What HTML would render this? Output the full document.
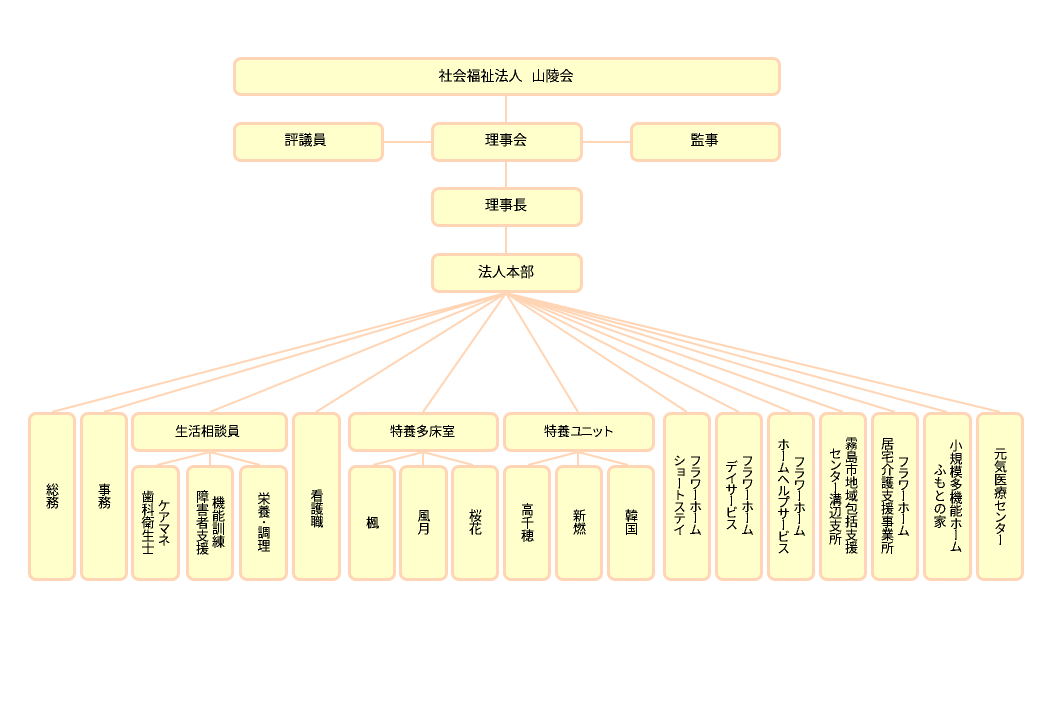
<!DOCTYPE html>
<html lang="ja"><head><meta charset="utf-8"><title>組織図</title>
<style>
html,body{margin:0;padding:0;background:#fff}
#c{position:relative;width:1040px;height:720px;overflow:hidden;font-family:"WenQuanYi Zen Hei","Noto Sans CJK JP",sans-serif;color:#000}
svg{position:absolute;left:0;top:0}
.b{position:absolute;box-sizing:border-box;background:#ffffcc;border:3px solid #ffd5b5;border-radius:8px;display:flex;align-items:center;justify-content:center;font-size:13px;line-height:16px;white-space:nowrap}
.b>span{display:block;position:relative;filter:url(#a)}
.l{font-size:14px}
.l>span{left:-1px;top:-2px}
.m>span{left:-1px;top:-1px}
.v>span{writing-mode:vertical-rl;text-align:center;line-height:16px;top:-1px}
.k{letter-spacing:-1.5px}
.u{letter-spacing:-2.5px}
.d{font-size:8px}
</style></head><body><div id="c">
<svg width="0" height="0" style="position:absolute"><filter id="a" x="-20%" y="-20%" width="140%" height="140%" color-interpolation-filters="sRGB"><feComponentTransfer><feFuncA type="discrete" tableValues="0 1 1"/></feComponentTransfer></filter></svg>
<svg width="1040" height="720" fill="none" stroke="#ffd5b5" stroke-width="2">
<path d="M506 96V122M384 142H431M583 142H630M506 162V187M506 227V253"/>
<path d="M506 293L52 412M506 293L104 412M506 293L210 412M506 293L316 412M506 293L423 412M506 293L578 412M506 293L687 412M506 293L739 412M506 293L791 412M506 293L843 412M506 293L895 412M506 293L947 412M506 293L1000 412"/>
<path d="M210 452L157 465M210 452V465M210 452L260 465M423 452L373 465M423 452V465M423 452L473 465M578 452L528 465M578 452V465M578 452L628 465"/>
</svg>
<div class="b l" style="left:233px;top:57px;width:548px;height:39px;"><span style="top:-1px">社会福祉法人<i style="display:inline-block;width:9px"></i>山陵会</span></div>
<div class="b l" style="left:233px;top:122px;width:151px;height:40px;"><span style="left:-3px">評議員</span></div>
<div class="b l" style="left:431px;top:122px;width:152px;height:40px;"><span>理事会</span></div>
<div class="b l" style="left:630px;top:122px;width:151px;height:40px;"><span>監事</span></div>
<div class="b l" style="left:431px;top:187px;width:152px;height:40px;"><span>理事長</span></div>
<div class="b l" style="left:431px;top:253px;width:152px;height:40px;"><span style="top:-1px">法人本部</span></div>
<div class="b v" style="left:28px;top:412px;width:48px;height:169px;"><span>総務</span></div>
<div class="b v" style="left:80px;top:412px;width:48px;height:169px;"><span>事務</span></div>
<div class="b m" style="left:131px;top:412px;width:157px;height:40px;"><span style="left:-2px">生活相談員</span></div>
<div class="b v" style="left:131px;top:465px;width:49px;height:116px;"><span><b class="k" style="font-weight:400">ケアマネ</b><br>歯科衛生士</span></div>
<div class="b v" style="left:186px;top:465px;width:48px;height:116px;"><span>機能訓練<br>障害者支援</span></div>
<div class="b v" style="left:239px;top:465px;width:49px;height:116px;"><span>栄養<b class="d" style="font-weight:700">・</b>調理</span></div>
<div class="b v" style="left:292px;top:412px;width:49px;height:169px;"><span style="top:12px">看護職</span></div>
<div class="b m" style="left:348px;top:412px;width:151px;height:40px;"><span>特養多床室</span></div>
<div class="b v" style="left:348px;top:465px;width:48px;height:116px;"><span>楓</span></div>
<div class="b v" style="left:399px;top:465px;width:49px;height:116px;"><span>風月</span></div>
<div class="b v" style="left:451px;top:465px;width:48px;height:116px;"><span>桜花</span></div>
<div class="b m" style="left:503px;top:412px;width:152px;height:40px;"><span>特養<b class="u" style="font-weight:400">ユニット</b></span></div>
<div class="b v" style="left:503px;top:465px;width:48px;height:116px;"><span>高千穂</span></div>
<div class="b v" style="left:555px;top:465px;width:48px;height:116px;"><span>新燃</span></div>
<div class="b v" style="left:607px;top:465px;width:48px;height:116px;"><span>韓国</span></div>
<div class="b v" style="left:663px;top:412px;width:48px;height:169px;"><span class="k" style="top:-2px">フラワーホーム<br>ショートステイ</span></div>
<div class="b v" style="left:715px;top:412px;width:48px;height:169px;"><span class="k" style="top:-2px">フラワーホーム<br>デイサービス</span></div>
<div class="b v" style="left:767px;top:412px;width:48px;height:169px;"><span class="k">フラワーホーム<br>ホームヘルプサービス</span></div>
<div class="b v" style="left:819px;top:412px;width:48px;height:169px;"><span>霧島市地域包括支援<br><b class="k" style="font-weight:400">センター</b>溝辺支所</span></div>
<div class="b v" style="left:871px;top:412px;width:48px;height:169px;"><span><b class="k" style="font-weight:400">フラワーホーム</b><br>居宅介護支援事業所</span></div>
<div class="b v" style="left:923px;top:412px;width:49px;height:169px;"><span>小規模多機能<b class="k" style="font-weight:400">ホーム</b><br>ふもとの家</span></div>
<div class="b v" style="left:976px;top:412px;width:48px;height:169px;"><span>元気医療<b class="k" style="font-weight:400">センター</b></span></div>
</div></body></html>
